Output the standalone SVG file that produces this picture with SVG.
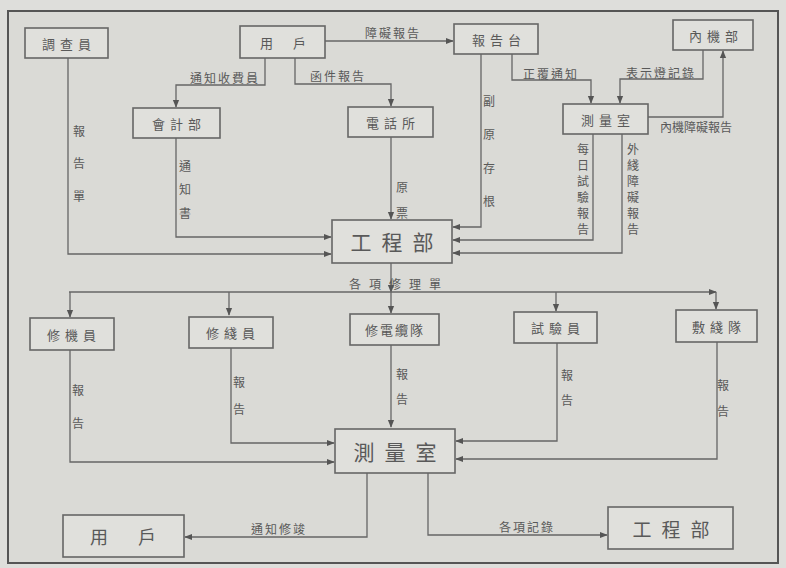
<svg xmlns="http://www.w3.org/2000/svg" width="786" height="568" viewBox="0 0 786 568">
<defs>
<marker id="ah" viewBox="0 0 10 10" refX="9" refY="5" markerWidth="8" markerHeight="8" markerUnits="userSpaceOnUse" orient="auto">
<path d="M0,1 L10,5 L0,9 Z" fill="#555"/>
</marker>
<style>
.bx{fill:#e0e0dc;stroke:#666;stroke-width:1.6}
.t{font-family:"Noto Sans CJK TC","Noto Sans CJK SC",sans-serif;fill:#595959;text-anchor:middle;dominant-baseline:central}
.n{font-size:13px;letter-spacing:5px}
.big{font-size:21px;letter-spacing:10px}
.l{font-size:12px;letter-spacing:2px}
.v{font-size:12px}
.c path{fill:none;stroke:#666;stroke-width:1.3;marker-end:url(#ah)}
</style>
</defs>
<rect x="0" y="0" width="786" height="568" fill="#dededb"/>
<rect x="8" y="11" width="770" height="552" fill="#dadad6" stroke="#555" stroke-width="2"/>

<g class="c" id="connectors">
<path d="M68,58 V254 H331"/>
<path d="M176,138 V237 H331"/>
<path d="M391,137 V219"/>
<path d="M265,58 V85 H176 V107"/>
<path d="M295,58 V84 H391 V106"/>
<path d="M325,41 H453"/>
<path d="M481,54 V227 H453"/>
<path d="M512,54 V80 H591 V103"/>
<path d="M703,50 V79 H620 V103"/>
<path d="M648,117 H723 V51"/>
<path d="M593,134 V240 H453"/>
<path d="M622,134 V253 H453"/>
<path d="M391,263 V292"/>
<path d="M69,292 H716"/>
<path d="M70,292 V317"/>
<path d="M229,292 V315"/>
<path d="M391,292 V313"/>
<path d="M556,292 V311"/>
<path d="M716,292 V309"/>
<path d="M70,350 V462 H334"/>
<path d="M231,348 V443 H334"/>
<path d="M391,345 V427"/>
<path d="M557,343 V441 H456"/>
<path d="M717,342 V459 H456"/>
<path d="M367,473 V537 H185"/>
<path d="M428,473 V535 H607"/>
</g>

<g id="n_diaochayuan"><rect class="bx" x="25" y="28" width="83" height="30"/><text class="t n" x="69" y="43">調查員</text></g>
<g id="n_yonghu1"><rect class="bx" x="240" y="26" width="85" height="32"/><text class="t n" x="293" y="42" style="letter-spacing:20px">用戶</text></g>
<g id="n_baogaotai"><rect class="bx" x="454" y="24" width="84" height="30"/><text class="t n" x="499" y="39">報告台</text></g>
<g id="n_neijibu"><rect class="bx" x="673" y="20" width="80" height="30"/><text class="t n" x="716" y="35">內機部</text></g>
<g id="n_kuaijibu"><rect class="bx" x="133" y="108" width="87" height="30"/><text class="t n" x="179" y="123">會計部</text></g>
<g id="n_dianhuasuo"><rect class="bx" x="348" y="107" width="85" height="30"/><text class="t n" x="393" y="122">電話所</text></g>
<g id="n_celiangshi1"><rect class="bx" x="563" y="104" width="85" height="30"/><text class="t n" x="608" y="119">測量室</text></g>
<g id="n_gongchengbu1"><rect class="bx" x="332" y="220" width="120" height="43"/><text class="t big" x="397" y="241">工程部</text></g>
<g id="n_xiujiyuan"><rect class="bx" x="30" y="318" width="84" height="32"/><text class="t n" x="74" y="334">修機員</text></g>
<g id="n_xiuxianyuan"><rect class="bx" x="189" y="317" width="84" height="31"/><text class="t n" x="233" y="332">修綫員</text></g>
<g id="n_xiudianlandui"><rect class="bx" x="350" y="314" width="89" height="31"/><text class="t n" x="395" y="329" style="letter-spacing:2px">修電纜隊</text></g>
<g id="n_shiyanyuan"><rect class="bx" x="514" y="312" width="83" height="31"/><text class="t n" x="558" y="327">試驗員</text></g>
<g id="n_fuxiandui"><rect class="bx" x="676" y="310" width="81" height="32"/><text class="t n" x="719" y="326">敷綫隊</text></g>
<g id="n_celiangshi2"><rect class="bx" x="335" y="429" width="120" height="44"/><text class="t big" x="400" y="451">測量室</text></g>
<g id="n_yonghu2"><rect class="bx" x="63" y="515" width="121" height="42"/><text class="t big" x="138" y="536" style="letter-spacing:30px;font-size:18px">用戶</text></g>
<g id="n_gongchengbu2"><rect class="bx" x="608" y="507" width="125" height="42"/><text class="t big" x="676" y="528" style="font-size:19px">工程部</text></g>

<g id="labels">
<text class="t l" x="393" y="32">障礙報告</text>
<text class="t l" x="225" y="77">通知收費員</text>
<text class="t l" x="338" y="75">函件報告</text>
<text class="t l" x="551" y="73">正覆通知</text>
<text class="t l" x="661" y="72">表示燈記錄</text>
<text class="t l" x="696" y="126" style="letter-spacing:0px">內機障礙報告</text>
<text class="t l" x="399" y="283" style="letter-spacing:8px">各項修理單</text>
<text class="t l" x="279" y="528">通知修竣</text>
<text class="t l" x="527" y="526">各項記錄</text>
<g class="t v">
<text x="79" y="130">報</text><text x="79" y="162">告</text><text x="79" y="195">單</text>
<text x="185" y="165">通</text><text x="185" y="188">知</text><text x="185" y="212">書</text>
<text x="402" y="186">原</text><text x="402" y="212">票</text>
<text x="489" y="100">副</text><text x="489" y="133">原</text><text x="489" y="167">存</text><text x="489" y="200">根</text>
<text x="583" y="148">每</text><text x="583" y="164">日</text><text x="583" y="180">試</text><text x="583" y="196">驗</text><text x="583" y="212">報</text><text x="583" y="228">告</text>
<text x="633" y="148">外</text><text x="633" y="164">綫</text><text x="633" y="180">障</text><text x="633" y="196">礙</text><text x="633" y="212">報</text><text x="633" y="228">告</text>
<text x="78" y="389">報</text><text x="78" y="422">告</text>
<text x="239" y="381">報</text><text x="239" y="408">告</text>
<text x="402" y="373">報</text><text x="402" y="398">告</text>
<text x="567" y="374">報</text><text x="567" y="399">告</text>
<text x="723" y="384">報</text><text x="723" y="410">告</text>
</g>
</g>
</svg>
